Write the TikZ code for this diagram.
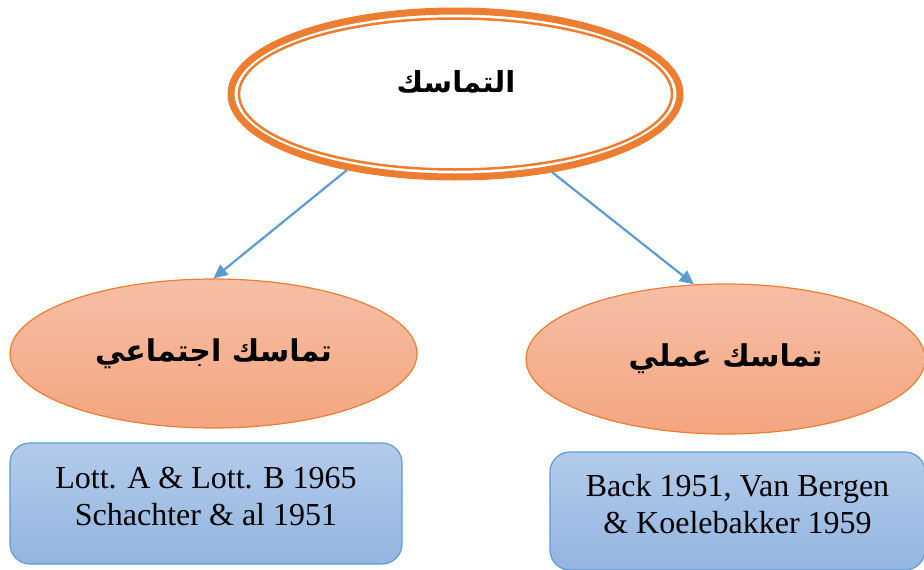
\documentclass[tikz,border=0pt]{standalone}
\usepackage{fontspec}
\setmainfont{Liberation Serif}
\newfontfamily\arabicfont[Script=Arabic]{DejaVu Sans}
\TeXXeTstate=1
\usetikzlibrary{shapes.geometric,arrows.meta}
\definecolor{ringorange}{HTML}{ED7D31}
\definecolor{linkblue}{HTML}{5B9BD5}
\definecolor{peachtop}{HTML}{F6BFA6}
\definecolor{peachbot}{HTML}{F4A57F}
\definecolor{skytop}{HTML}{B3CBEA}
\definecolor{skybot}{HTML}{93B5E0}

\begin{document}
\begin{tikzpicture}[x=1pt,y=-1pt,
    link/.style={linkblue, line width=2.2pt, -{Triangle[length=14pt,width=13pt]}},
    branch/.style={ellipse, draw=ringorange, line width=1.2pt, top color=peachtop, bottom color=peachbot,
      inner sep=0pt, font=\arabicfont\bfseries\fontsize{30}{36}\selectfont},
    refbox/.style={rectangle, rounded corners=20pt, draw=linkblue, line width=1.2pt, top color=skytop,
      bottom color=skybot, inner sep=0pt},
    reftext/.style={align=center, inner sep=0pt, font=\fontsize{32}{37}\selectfont}]
  \useasboundingbox (0,0) rectangle (924,570);
  % top ring
  \node[ellipse, draw=ringorange, line width=7pt, fill=white, inner sep=0pt,
    minimum width=449pt, minimum height=166pt] (root) at (455.5,94) {};
  \draw[ringorange, line width=2.5pt] (root.center) ellipse [x radius=216.5, y radius=75.5];
  \node[font=\arabicfont\bfseries\fontsize{29}{34}\selectfont] (title) at (456,82) {\beginR التماسك\endR};
  % two kinds
  \node[branch, minimum width=407pt, minimum height=149pt] (social) at (213.5,353.5) {\beginR تماسك اجتماعي\endR};
  \node[branch, minimum width=399pt, minimum height=150pt] (work) at (725.5,359) {\beginR تماسك عملي\endR};
  % references
  \node[refbox, minimum width=392pt, minimum height=121pt] (socialref) at (206,503.5) {};
  \node[reftext] (socialtxt) at ([yshift=7pt]socialref.center) {Lott. A \& Lott. B 1965\\Schachter \& al 1951};
  \node[refbox, minimum width=375pt, minimum height=118pt] (workref) at (737.5,511) {};
  \node[reftext] (worktxt) at ([yshift=7pt]workref.center) {Back 1951, Van Bergen\\\& Koelebakker 1959};
  \draw[link] (root.215.5) -- (social.north);
  \draw[link] (root.321) -- (work.113);
\end{tikzpicture}
\end{document}
